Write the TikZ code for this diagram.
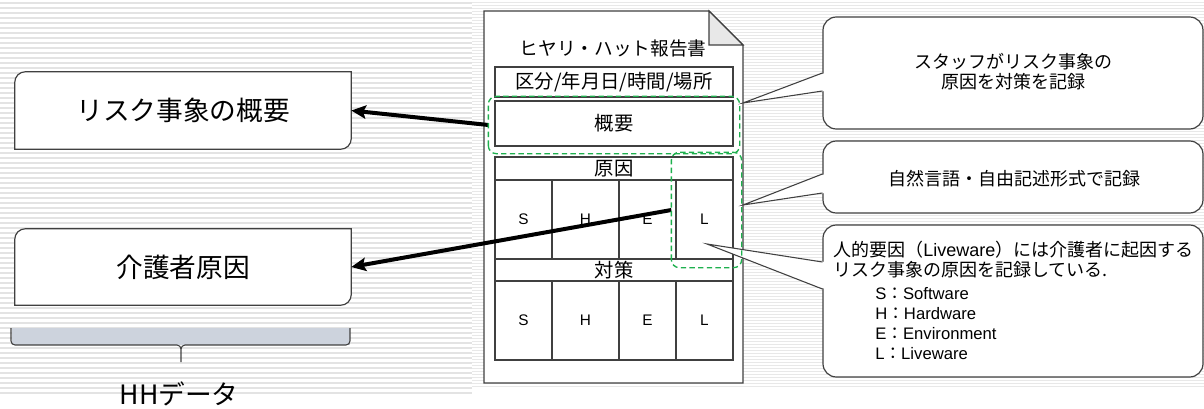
\documentclass[tikz,border=0pt]{standalone}
\usepackage{fontspec}
\setmainfont{Noto Sans CJK JP}
\newfontfamily\lat{Liberation Sans}
\newfontfamily\jpf{Noto Sans CJK JP}
\usetikzlibrary{arrows.meta}
\definecolor{gline}{HTML}{404040}
\definecolor{dgreen}{HTML}{1EB04E}
\definecolor{stripe}{HTML}{E3E3E3}
\definecolor{stripeb}{HTML}{E8E8E8}
\definecolor{bracefill}{HTML}{CDD3DD}
\definecolor{foldc}{HTML}{E8E8E8}
\newcommand\mydiagbox[1]{\filldraw[boxline,fill=white] (#1.south west) -- ([yshift=-8pt]#1.north west) arc[start angle=180,end angle=90,radius=8pt] -- (#1.north east) -- ([yshift=8pt]#1.south east) arc[start angle=0,end angle=-90,radius=8pt] -- cycle;}
\tikzset{
  boxline/.style={draw=gline,line width=0.9pt},
  wh/.style 2 args={minimum width=#1*0.75pt,minimum height=#2*0.75pt},
  lbox/.style={inner sep=0pt,font=\fontsize{20}{24}\selectfont},
  cell/.style={draw=gline,line width=0.9pt,fill=white,inner sep=0pt,font=\fontsize{14.5}{17}\selectfont},
  lcell/.style={cell,font=\lat\fontsize{11.5}{14}\selectfont},
  gdash/.style={draw=dgreen,line width=1pt,dash pattern=on 4pt off 2.5pt,rounded corners=6pt,inner sep=0pt},
  arr/.style={line width=3pt,-{Stealth[length=11pt,width=10pt,inset=2pt]}},
  callout/.style={draw=gline,line width=0.9pt,fill=white,rounded corners=10pt,inner sep=0pt},
  ctext/.style={font=\fontsize{13.5}{15}\selectfont,align=center},
  cline/.style={anchor=west,inner sep=0pt,font=\fontsize{13.5}{15}\selectfont},
  lline/.style={anchor=west,inner sep=0pt,font=\lat\fontsize{12.5}{15}\selectfont},
}
\begin{document}
\begin{tikzpicture}[x=0.75pt,y=0.75pt]
\useasboundingbox (0,0) rectangle (1204,408);
% background stripes
\foreach \i in {0,...,78}{\draw[stripe,line width=0.9pt] (0,{405-5*\i}) -- (472,{405-5*\i});}
\foreach \i in {0,...,128}{\draw[stripeb,line width=0.7pt] (472,{406-3*\i}) -- (1204,{406-3*\i});}
% left boxes
\path node[lbox,wh={336}{77}] (lb1) at (183,297.5) {};
\mydiagbox{lb1}
\node[lbox] at (lb1) {リスク事象の概要};
\path node[lbox,wh={336}{76}] (lb2) at (183,141) {};
\mydiagbox{lb2}
\node[lbox] at (lb2) {介護者原因};
% brace
\fill[bracefill] (12,80) rectangle (350,63);
\draw[gline,line width=0.8pt] (11,80) -- (11,67) to[out=-90,in=180] (15,63) -- (177,63) to[out=0,in=90] (181,59) -- (181,46);
\draw[gline,line width=0.8pt] (181,59) to[out=90,in=180] (185,63) -- (346,63) to[out=0,in=-90] (350,67) -- (350,80);
\node[font=\fontsize{20}{24}\selectfont] (hh) at (179,14) {HHデータ};
% document
\filldraw[boxline,fill=white] (484,25) -- (484,397) -- (709,397) -- (743,363) -- (743,25) -- cycle;
\filldraw[boxline,fill=foldc] (709,397) -- (709,363) -- (743,363) -- cycle;
\node[font=\fontsize{14}{17}\selectfont] (title) at (613,360) {ヒヤリ・ハット報告書};
% table
\node[cell,wh={238}{30}] (r1) at (614,326) {区分/年月日/時間/場所};
\node[cell,wh={238}{45}] (r2) at (614,284.5) {概要};
\node[cell,wh={238}{23}] (r3) at (614,239.5) {原因};
\node[lcell,wh={57}{79}] (s1) at (523.5,188.5) {S};
\node[lcell,wh={67}{79}] (h1) at (585.5,188.5) {H};
\node[lcell,wh={57}{79}] (e1) at (647.5,188.5) {E};
\node[lcell,wh={57}{79}] (l1) at (704.5,188.5) {L};
\node[cell,wh={238}{22}] (r4) at (614,138) {対策};
\node[lcell,wh={57}{79}] (s2) at (523.5,87.5) {S};
\node[lcell,wh={67}{79}] (h2) at (585.5,87.5) {H};
\node[lcell,wh={57}{79}] (e2) at (647.5,87.5) {E};
\node[lcell,wh={57}{79}] (l2) at (704.5,87.5) {L};
% green dashed groups (positions only)
\path node[gdash,draw=none,wh={250}{56}] (g1) at (614,283) {};
\path node[gdash,draw=none,wh={69}{114}] (g2) at (706.5,198) {};
% arrows
\draw[arr] (g1.west) -- (lb1.east);
\draw[arr] (g2.west) -- (lb2.east);
% callouts
\node[callout,wh={380}{112}] (ca) at (1013,335) {};
\node[ctext] at (1013,336) {スタッフがリスク事象の\\原因を対策を記録};
\coordinate (ta) at (743,305);
\fill[white] (ta) -- ([xshift=2pt]ca.west) -- ([xshift=2pt,yshift=-13.5pt]ca.west) -- cycle;
\draw[gline,line width=0.8pt] (ca.west) -- (ta) -- ([yshift=-13.5pt]ca.west);
\node[callout,wh={380}{72}] (cb) at (1013,231) {};
\node[ctext] at (1014,229) {自然言語・自由記述形式で記録};
\coordinate (tb) at (743,203);
\fill[white] (tb) -- ([xshift=2pt,yshift=2.25pt]cb.west) -- ([xshift=2pt,yshift=-12pt]cb.west) -- cycle;
\draw[gline,line width=0.8pt] ([yshift=2.25pt]cb.west) -- (tb) -- ([yshift=-12pt]cb.west);
\node[callout,wh={380}{152}] (cc) at (1013,107) {};
\coordinate (tc) at (707,164);
\fill[white] (tc) -- ([xshift=2pt,yshift=29.25pt]cc.west) -- ([xshift=2pt,yshift=9pt]cc.west) -- cycle;
\draw[gline,line width=0.8pt] ([yshift=29.25pt]cc.west) -- (tc) -- ([yshift=9pt]cc.west);
\node[cline] at (833,158) {人的要因（{\lat Liveware}）には介護者に起因する};
\node[cline] at (833,138) {リスク事象の原因を記録している.};
\node[lline] at (875,114) {S{\jpf ：}Software};
\node[lline] at (875,94) {H{\jpf ：}Hardware};
\node[lline] at (875,74) {E{\jpf ：}Environment};
\node[lline] at (875,54) {L{\jpf ：}Liveware};
% green dashed outlines on top
\draw[gdash] (g1.south west) rectangle (g1.north east);
\draw[gdash] (g2.south west) rectangle (g2.north east);
\end{tikzpicture}
\end{document}
